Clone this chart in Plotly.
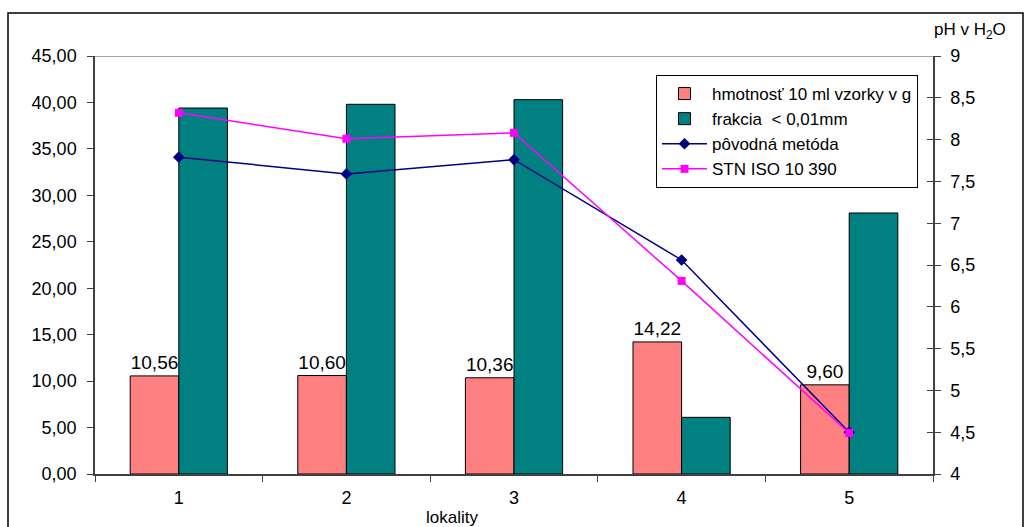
import plotly.graph_objects as go

# Sampling sites (lokality)
lokality = ["1", "2", "3", "4", "5"]

# Mass of 10 ml sample in g (left axis)
hmotnost = [10.56, 10.60, 10.36, 14.22, 9.60]
# Fraction < 0.01 mm (left axis)
frakcia = [39.4, 39.8, 40.3, 6.1, 28.1]

# pH in H2O (right axis)
ph_povodna = [7.79, 7.59, 7.76, 6.56, 4.50]
ph_stn_iso = [8.32, 8.01, 8.08, 6.31, 4.49]

left_ticks = [0, 5, 10, 15, 20, 25, 30, 35, 40, 45]
right_ticks = [4, 4.5, 5, 5.5, 6, 6.5, 7, 7.5, 8, 8.5, 9]

W, H = 1025, 527
ML, MR, MT, MB = 95, 92, 56, 53
PW, PH = W - ML - MR, H - MT - MB

FONT = "Liberation Sans, Arial, sans-serif"


def px_x(p):
    return (p - ML) / PW


def px_y(p):
    return (H - MB - p) / PH


fig = go.Figure()

fig.add_trace(go.Bar(
    x=lokality, y=hmotnost, name="hmotnosť 10 ml vzorky v g",
    marker=dict(color="#FF8080", line=dict(color="black", width=1)),
    text=hmotnost, texttemplate="%{y:.2f}", textposition="outside",
    textfont=dict(size=19, color="black", family=FONT), cliponaxis=False,
))
fig.add_trace(go.Bar(
    x=lokality, y=frakcia, name="frakcia  < 0,01mm",
    marker=dict(color="#008080", line=dict(color="black", width=1)),
))
fig.add_trace(go.Scatter(
    x=lokality, y=ph_povodna, name="pôvodná metóda", yaxis="y2",
    mode="lines+markers",
    line=dict(color="#000080", width=1.5),
    marker=dict(symbol="diamond", size=9, color="#000080"),
))
fig.add_trace(go.Scatter(
    x=lokality, y=ph_stn_iso, name="STN ISO 10 390", yaxis="y2",
    mode="lines+markers",
    line=dict(color="#FF00FF", width=1.5),
    marker=dict(symbol="square", size=8, color="#FF00FF"),
))
# invisible trace that carries the inner ticks of the right axis
fig.add_trace(go.Scatter(x=lokality, y=ph_povodna, yaxis="y3",
                         mode="none", showlegend=False, hoverinfo="skip"))

fig.update_layout(
    width=W, height=H,
    margin=dict(l=ML, r=MR, t=MT, b=MB, pad=0),
    paper_bgcolor="white", plot_bgcolor="white",
    separators=",.",
    font=dict(family=FONT, size=18, color="black"),
    barmode="group", bargap=0.42, bargroupgap=0,
    showlegend=True,
    legend=dict(
        x=px_x(656), y=px_y(75), xanchor="left", yanchor="top",
        bgcolor="white", bordercolor="black", borderwidth=1,
        font=dict(size=17, family=FONT), tracegroupgap=0,
        itemwidth=45,
    ),
    xaxis=dict(
        type="category", showgrid=False, zeroline=False,
        showline=True, linecolor="#404040", linewidth=1.5,
        ticks="outside", ticklen=6, tickcolor="#404040", tickson="boundaries",
        tickfont=dict(size=18), ticklabelstandoff=7,
    ),
    yaxis=dict(
        range=[0, 45], tickvals=left_ticks, tickformat=".2f",
        showgrid=False, zeroline=False,
        showline=True, linecolor="#404040", linewidth=1.5,
        ticks="outside", ticklen=6, tickcolor="#404040",
        tickfont=dict(size=18), ticklabelstandoff=7,
    ),
    yaxis2=dict(
        range=[4, 9], tickvals=right_ticks, overlaying="y", side="right",
        showgrid=False, zeroline=False,
        showline=True, linecolor="#404040", linewidth=1.5,
        ticks="outside", ticklen=6, tickcolor="#404040",
        tickfont=dict(size=18), ticklabelstandoff=6,
    ),
    yaxis3=dict(
        range=[4, 9], tickvals=right_ticks, overlaying="y", side="right",
        showgrid=False, zeroline=False, showline=False,
        ticks="inside", ticklen=6, tickcolor="#404040",
        showticklabels=False,
    ),
)

# gray line along the top of the plot area
fig.add_shape(type="line", xref="paper", yref="y", x0=0, x1=1, y0=45, y1=45,
              line=dict(color="#888888", width=1.5))

# outer chart border
fig.add_shape(type="rect", xref="paper", yref="paper",
              x0=px_x(8), x1=px_x(1023), y0=px_y(540), y1=px_y(13),
              line=dict(color="black", width=1.5))

# axis titles
fig.add_annotation(text="lokality", xref="paper", yref="paper",
                   x=px_x(452), y=px_y(517), xanchor="center", yanchor="middle",
                   showarrow=False, font=dict(size=17, family=FONT))
fig.add_annotation(text="pH v H<sub>2</sub>O", xref="paper", yref="paper",
                   x=px_x(970), y=px_y(31), xanchor="center", yanchor="middle",
                   showarrow=False, font=dict(size=17, family=FONT))

fig.write_html("out.html")
